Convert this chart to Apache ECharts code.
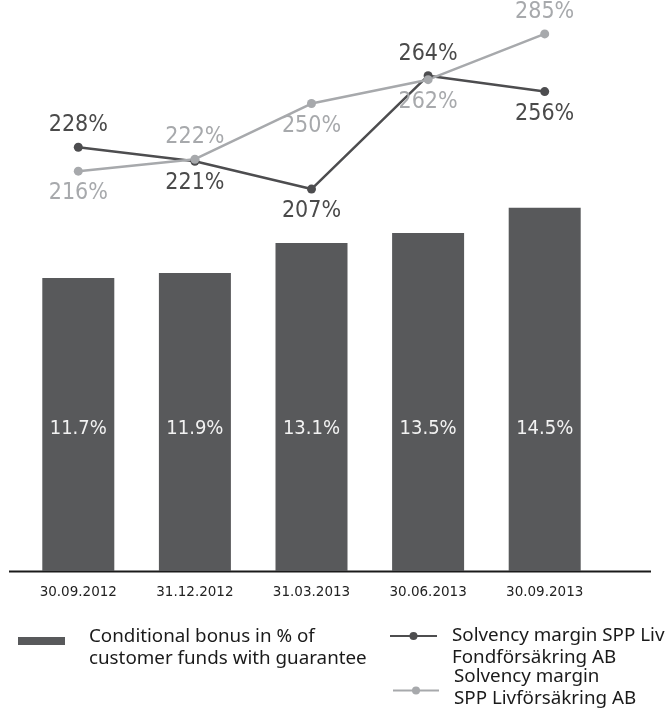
<!DOCTYPE html>
<html>
<head>
<meta charset="utf-8">
<script src="https://cdn.jsdelivr.net/npm/echarts@6/dist/echarts.min.js"></script>
<style>
  html, body { margin: 0; padding: 0; background: #fff; }
  #chart { width: 668px; height: 720px; }
</style>
</head>
<body>
<div id="chart"></div>
<script>
// data
var categories = ['30.09.2012', '31.12.2012', '31.03.2013', '30.06.2013', '30.09.2013'];
var bonusValues = [11.7, 11.9, 13.1, 13.5, 14.5];     // % of customer funds with guarantee
var fondValues = [228, 221, 207, 264, 256];           // SPP Liv Fondförsäkring AB
var livValues = [216, 222, 250, 262, 285];            // SPP Livförsäkring AB

var bonusName = 'Conditional bonus in % of\ncustomer funds with guarantee';
var fondName = 'Solvency margin SPP Liv\nFondförsäkring AB';
var livName = 'Solvency margin\nSPP Livförsäkring AB';

// label placement per point (above / below)
var fondPos = ['top', 'bottom', 'bottom', 'top', 'bottom'];
var livPos = ['bottom', 'top', 'bottom', 'bottom', 'top'];

var barColor = '#58595b';
var darkColor = '#4d4d4f';
var lightColor = '#a7a9ac';
var numFont = '"DejaVu Sans Condensed", "DejaVu Sans", sans-serif';
var legendFont = '"Noto Sans", "Open Sans", sans-serif';

function withPos(values, pos) {
    var out = [];
    for (var i = 0; i < values.length; i++) {
        out.push({ value: values[i], label: { position: pos[i] } });
    }
    return out;
}

// legend text as rich lines, with a spacer line to move the text against the icon
function legendText(spacerFirst) {
    return function (name) {
        var lines = name.split('\n').map(function (s) { return '{t|' + s + '}'; });
        if (spacerFirst) return '{s| }\n' + lines.join('\n');
        return lines.join('\n') + '\n{s| }';
    };
}
function legendStyle(spacer, padLeft) {
    return {
        fontFamily: legendFont,
        color: '#1a1a1a',
        padding: [0, 0, 0, padLeft],
        rich: {
            t: { fontFamily: legendFont, fontSize: 18.8, lineHeight: 22, color: '#1a1a1a' },
            s: { fontSize: 4, lineHeight: spacer }
        }
    };
}

var myChart = echarts.init(document.getElementById('chart'));
var option = {
    animation: false,
    grid: { left: 20, right: 65, top: 20, bottom: 149 },
    xAxis: {
        type: 'category',
        data: categories,
        axisLine: { show: false },
        axisTick: { show: false },
        axisLabel: {
            margin: 14,
            color: '#222',
            fontSize: 13.5,
            fontFamily: '"DejaVu Sans", sans-serif'
        }
    },
    yAxis: [
        { type: 'value', min: 0, max: 22, show: false },
        { type: 'value', min: 15, max: 292, show: false }
    ],
    legend: [
        {
            data: [bonusName],
            left: 18, top: 617, padding: 0,
            icon: 'rect', itemWidth: 47, itemHeight: 8,
            selectedMode: false,
            formatter: legendText(true),
            textStyle: legendStyle(14, 19)
        },
        {
            data: [fondName],
            left: 389, top: 612, padding: 0,
            itemWidth: 47, itemHeight: 10,
            selectedMode: false,
            formatter: legendText(true),
            textStyle: legendStyle(21, 10)
        },
        {
            data: [livName],
            left: 392, top: 667, padding: 0,
            itemWidth: 46, itemHeight: 10,
            selectedMode: false,
            formatter: legendText(false),
            textStyle: legendStyle(6, 10)
        }
    ],
    graphic: [{
        type: 'line',
        shape: { x1: 9, y1: 571.5, x2: 651, y2: 571.5 },
        style: { stroke: '#1a1a1a', lineWidth: 2 }
    }],
    series: [
        {
            name: bonusName,
            type: 'bar',
            yAxisIndex: 0,
            data: bonusValues,
            barWidth: 72,
            itemStyle: { color: barColor },
            label: {
                show: true,
                position: 'insideBottom',
                distance: 132,
                formatter: '{c}%',
                color: '#f2f2f2',
                fontSize: 20,
                fontFamily: numFont
            }
        },
        {
            name: fondName,
            type: 'line',
            yAxisIndex: 1,
            data: withPos(fondValues, fondPos),
            symbol: 'circle',
            symbolSize: 9,
            lineStyle: { color: darkColor, width: 2.5 },
            itemStyle: { color: darkColor },
            label: {
                show: true,
                distance: 6,
                formatter: '{c}%',
                color: '#4a4a4a',
                fontSize: 23,
                fontFamily: numFont
            }
        },
        {
            name: livName,
            type: 'line',
            yAxisIndex: 1,
            data: withPos(livValues, livPos),
            symbol: 'circle',
            symbolSize: 9,
            lineStyle: { color: lightColor, width: 2.5 },
            itemStyle: { color: lightColor },
            label: {
                show: true,
                distance: 6,
                formatter: '{c}%',
                color: '#a7a9ac',
                fontSize: 23,
                fontFamily: numFont
            }
        }
    ]
};
myChart.setOption(option);
</script>
</body>
</html>
